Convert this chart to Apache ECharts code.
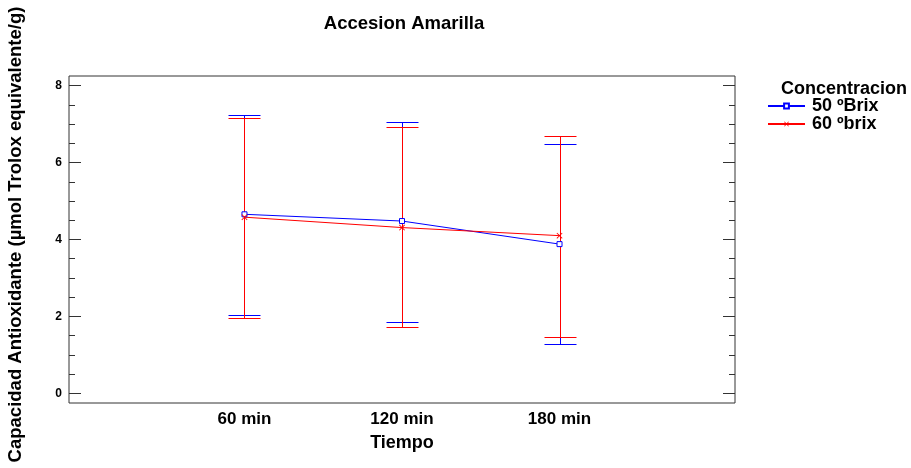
<!DOCTYPE html>
<html>
<head>
<meta charset="utf-8">
<script src="https://cdn.jsdelivr.net/npm/echarts@6/dist/echarts.min.js"></script>
<style>html,body{margin:0;padding:0;background:#fff}#c{width:911px;height:468px}</style>
</head>
<body>
<div id="c"></div>
<script>
var categories = ['60 min', '120 min', '180 min'];
var seriesNames = ['50 ºBrix', '60 ºbrix'];
var mean50 = [4.655, 4.48, 3.88];
var low50 = [2.04, 1.86, 1.29];
var high50 = [7.24, 7.05, 6.48];
var mean60 = [4.58, 4.31, 4.10];
var low60 = [1.96, 1.73, 1.47];
var high60 = [7.16, 6.92, 6.69];
var yMajorTicks = [0, 2, 4, 6, 8];
var yMinorTicks = [0.5, 1, 1.5, 2.5, 3, 3.5, 4.5, 5, 5.5, 6.5, 7, 7.5];

var FONT = 'Liberation Sans, Arial, sans-serif';
var BLUE = '#0000ff', RED = '#ff0000', AX = '#333333';

function pts(arr) { return arr.map(function (v, i) { return [i + 1, v]; }); }
function bars(lo, hi) { return lo.map(function (v, i) { return [i + 1, v, hi[i]]; }); }

function errRender(color) {
  return function (params, api) {
    var x = api.value(0);
    var p1 = api.coord([x, api.value(1)]);
    var p2 = api.coord([x, api.value(2)]);
    var cx = Math.round(p1[0]) + 0.5;
    var y1 = Math.round(p1[1]) + 0.5, y2 = Math.round(p2[1]) + 0.5;
    var w = 16;
    var st = { stroke: color, lineWidth: 1 };
    return {
      type: 'group',
      children: [
        { type: 'line', shape: { x1: cx, y1: y1, x2: cx, y2: y2 }, style: st },
        { type: 'line', shape: { x1: cx - w, y1: y1, x2: cx + w, y2: y1 }, style: st },
        { type: 'line', shape: { x1: cx - w, y1: y2, x2: cx + w, y2: y2 }, style: st }
      ]
    };
  };
}

var yBase = { type: 'value', min: -0.25, max: 8.25, splitLine: { show: false }, axisLine: { show: false, onZero: false } };
function yAx(extra) { return Object.assign({}, yBase, extra); }

var xSym = 'path://M0,1L1,0L5,4L9,0L10,1L6,5L10,9L9,10L5,6L1,10L0,9L4,5Z';

var chart = echarts.init(document.getElementById('c'), null, { renderer: 'canvas' });
chart.setOption({
  animation: false,
  backgroundColor: '#fff',
  textStyle: { fontFamily: FONT },
  title: [
    { text: 'Accesion Amarilla', left: 399, top: 9, textAlign: 'center',
      textStyle: { fontFamily: FONT, fontSize: 18.5, fontWeight: 'bold', color: '#000' } },
    { text: 'Concentracion', left: 776, top: 75,
      textStyle: { fontFamily: FONT, fontSize: 18, fontWeight: 'bold', color: '#000' } }
  ],
  legend: {
    orient: 'vertical', left: 762, top: 92, itemWidth: 37, itemHeight: 6, itemGap: 0,
    data: seriesNames,
    textStyle: { fontFamily: FONT, fontSize: 18, fontWeight: 'bold', color: '#000', padding: [0, 0, 0, 2] }
  },
  grid: { left: 69, right: 176, top: 76, bottom: 65, show: true, borderColor: AX, borderWidth: 1,
    containLabel: false, outerBoundsMode: 'none' },
  xAxis: {
    type: 'value', min: -0.114, max: 4.114,
    name: 'Tiempo', nameLocation: 'middle', nameGap: 31,
    nameTextStyle: { fontFamily: FONT, fontSize: 18, fontWeight: 'bold', color: '#000' },
    axisLine: { show: false, onZero: false }, axisTick: { show: false }, splitLine: { show: false },
    axisLabel: {
      customValues: [1, 2, 3], margin: 8,
      fontFamily: FONT, fontSize: 17, fontWeight: 'bold', color: '#000',
      formatter: function (v) { return categories[Math.round(v) - 1] || ''; }
    }
  },
  yAxis: [
    yAx({
      position: 'left',
      name: 'Capacidad Antioxidante (µmol Trolox equivalente/g)', nameLocation: 'middle', nameGap: 44,
      nameTextStyle: { fontFamily: FONT, fontSize: 18.5, fontWeight: 'bold', color: '#000', padding: [0, 0, 0, 10] },
      axisLabel: { customValues: yMajorTicks, margin: 7, fontFamily: FONT, fontSize: 12, fontWeight: 'bold', color: '#000' },
      axisTick: { show: true, inside: true, length: 12, customValues: yMajorTicks, lineStyle: { color: AX } }
    }),
    yAx({
      position: 'left', axisLabel: { show: false },
      axisTick: { show: true, inside: true, length: 6, customValues: yMinorTicks, lineStyle: { color: AX } }
    }),
    yAx({
      position: 'right', axisLabel: { show: false },
      axisTick: { show: true, inside: true, length: 12, customValues: yMajorTicks, lineStyle: { color: AX } }
    }),
    yAx({
      position: 'right', axisLabel: { show: false },
      axisTick: { show: true, inside: true, length: 6, customValues: yMinorTicks, lineStyle: { color: AX } }
    })
  ],
  series: [
    { type: 'custom', name: 'err50', renderItem: errRender(BLUE), data: bars(low50, high50), encode: { x: 0, y: [1, 2] }, z: 2 },
    { type: 'custom', name: 'err60', renderItem: errRender(RED), data: bars(low60, high60), encode: { x: 0, y: [1, 2] }, z: 3 },
    { type: 'line', name: seriesNames[0], data: pts(mean50), symbol: 'rect', symbolSize: 5,
      lineStyle: { color: BLUE, width: 1 }, itemStyle: { color: '#fff', borderColor: BLUE, borderWidth: 1 }, z: 4 },
    { type: 'line', name: seriesNames[1], data: pts(mean60), symbol: xSym, symbolSize: 6,
      lineStyle: { color: RED, width: 1 }, itemStyle: { color: RED }, z: 4 }
  ]
});
</script>
</body>
</html>
